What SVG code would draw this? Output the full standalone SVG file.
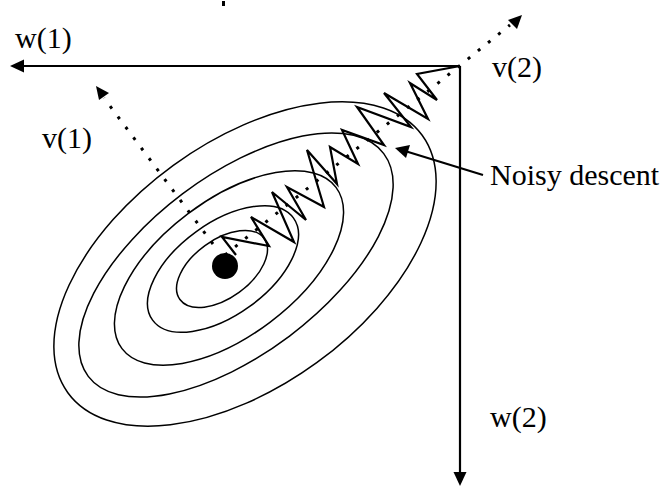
<svg xmlns="http://www.w3.org/2000/svg" width="666" height="487" viewBox="0 0 666 487">
  <defs>
    <style>
      .lbl { font-family: "Liberation Serif", "Times New Roman", serif; font-size: 30px; fill: #000; }
      .axis { stroke: #000; stroke-width: 2.2; fill: none; }
      .dot { stroke: #000; stroke-width: 3; fill: none; stroke-dasharray: 3 10; }
      .ell { stroke: #000; stroke-width: 1.5; fill: none; }
      .zig { stroke: #000; stroke-width: 2.2; fill: none; stroke-linejoin: miter; }
      .head { fill: #000; }
    </style>
  </defs>
  <rect width="666" height="487" fill="#fff"/>

  <g id="contours">
    <ellipse class="ell" cx="222" cy="269" rx="52" ry="29" transform="rotate(-36 222 269)"/>
    <ellipse class="ell" cx="223" cy="269" rx="87" ry="46" transform="rotate(-36 223 269)"/>
    <ellipse class="ell" cx="229" cy="268" rx="134" ry="68" transform="rotate(-37 229 268)"/>
    <ellipse class="ell" cx="236" cy="265" rx="185" ry="89" transform="rotate(-37 236 265)"/>
    <ellipse class="ell" cx="245" cy="264" rx="219" ry="122" transform="rotate(-36 245 264)"/>
  </g>

  <g id="minimum">
    <circle cx="225" cy="266" r="13" fill="#000"/>
  </g>

  <g id="connectors">
    <line class="axis" x1="460" y1="66" x2="20" y2="66"/>
    <polygon class="head" points="10,66 24,59.5 24,72.5"/>
    <line class="axis" x1="460" y1="66" x2="460" y2="474"/>
    <polygon class="head" points="460,486 453.5,472 466.5,472"/>
    <line class="dot" x1="225" y1="255" x2="510" y2="25"/>
    <polygon class="head" points="522,15 517,29 508,20"/>
    <line class="dot" x1="213" y1="244" x2="104" y2="98"/>
    <polygon class="head" points="96,86 109,93 99,100"/>
    <path class="zig" d="M460,66 L417,74 L437,100 L410,83 L428,119 L384,93 L411,127 L357,107 L384,145 L342,130 L358,164 L330,147 L337,184 L307,150 L324,207 L287,187 L306,220 L272,192 L294,242 L251,217 L269,246 L222,237 L236,255"/>
    <line class="axis" x1="483" y1="175" x2="405" y2="151"/>
    <polygon class="head" points="395,148 410,145 406,158"/>
  </g>

  <g id="labels">
    <text class="lbl" x="15" y="48">w(1)</text>
    <text class="lbl" x="492" y="77">v(2)</text>
    <text class="lbl" x="42" y="148">v(1)</text>
    <text class="lbl" x="490" y="185">Noisy descent</text>
    <text class="lbl" x="490" y="427">w(2)</text>
  </g>
  <rect x="222" y="1" width="3" height="5" fill="#000"/>
</svg>
